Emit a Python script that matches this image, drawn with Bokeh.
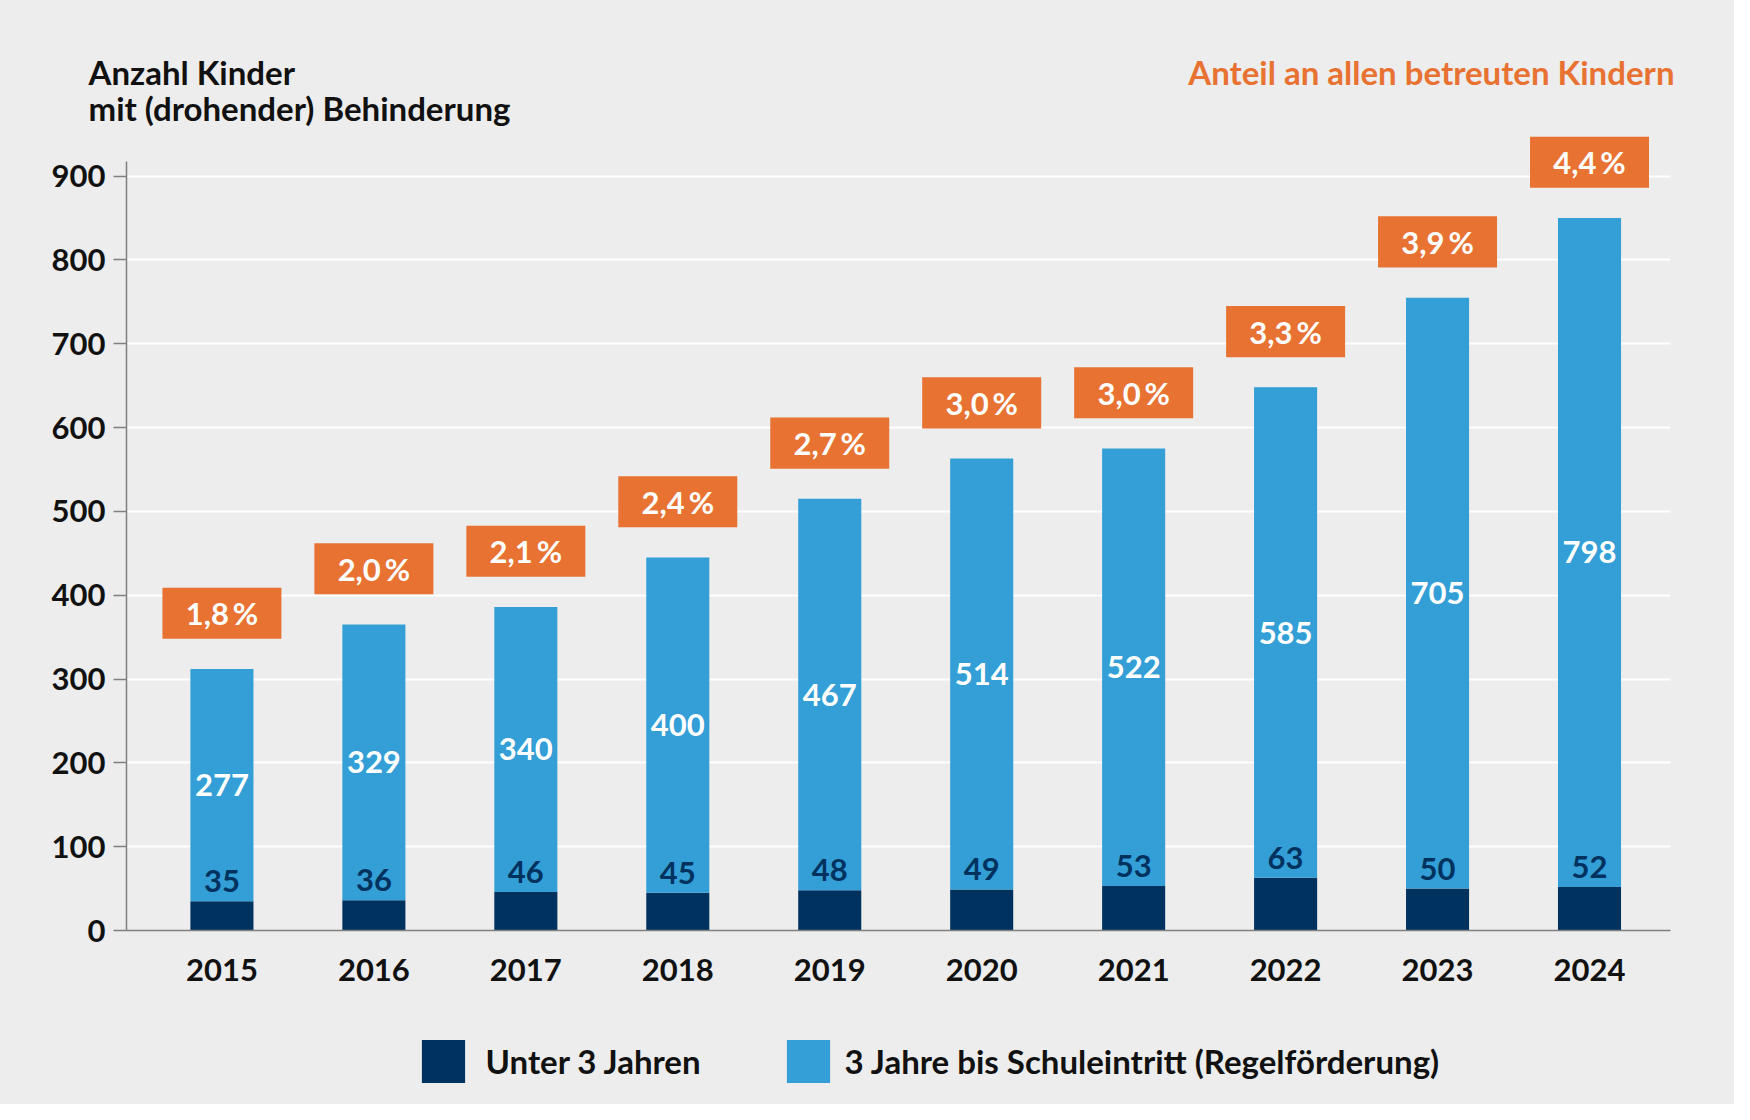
from bokeh.plotting import figure
from bokeh.layouts import column
from bokeh.models import Range1d, FixedTicker, Legend, LegendItem, ColumnDataSource
from bokeh.core.properties import value
from bokeh.embed import file_html
from bokeh.resources import INLINE

# ---- data ----
years = [2015, 2016, 2017, 2018, 2019, 2020, 2021, 2022, 2023, 2024]
under_3 = [35, 36, 46, 45, 48, 49, 53, 63, 50, 52]
age3_to_school = [277, 329, 340, 400, 467, 514, 522, 585, 705, 798]
share_pct = ["1,8", "2,0", "2,1", "2,4", "2,7", "3,0", "3,0", "3,3", "3,9", "4,4"]
y_ticks = [0, 100, 200, 300, 400, 500, 600, 700, 800, 900]
series_names = ["Unter 3 Jahren", "3 Jahre bis Schuleintritt (Regelförderung)"]
title_left = ["Anzahl Kinder", "mit (drohender) Behinderung"]
title_right = "Anteil an allen betreuten Kindern"

# ---- style ----
FONT = "Lato"
BG = "#ECEDEC"
DARK = "#00325F"
LIGHT = "#339FD6"
ORANGE = "#E87232"
INK = "#111111"
FS = "31px"
W = 1734


def blank(height):
    f = figure(width=W, height=height, output_backend="svg", toolbar_location=None,
               x_range=Range1d(0, W), y_range=Range1d(height, 0),
               x_axis_type=None, y_axis_type=None,
               min_border=0, background_fill_color=BG, border_fill_color=BG,
               outline_line_color=None)
    f.xgrid.visible = False
    f.ygrid.visible = False
    f.title.visible = False
    f.frame_align = False
    return f


totals = [a + b for a, b in zip(under_3, age3_to_school)]
src = ColumnDataSource(dict(
    year=years,
    u3=under_3,
    a3=age3_to_school,
    u3_txt=[str(v) for v in under_3],
    a3_txt=[str(v) for v in age3_to_school],
    a3_mid=[u + a / 2 for u, a in zip(under_3, age3_to_school)],
    box_bottom=[t + 36 for t in totals],
    box_top=[t + 97 for t in totals],
    box_mid=[t + 66.5 for t in totals],
    pct=[s + "\u2009%" for s in share_pct],
))

# ---- header with the two titles ----
head = blank(132)
head.text(x=[88, 88], y=[71.3, 107.3], text=title_left, text_align="left",
          text_baseline="middle", text_color=INK, text_font=value(FONT),
          text_font_style="bold", text_font_size="33px")
head.text(x=[1674], y=[71], text=[title_right], text_align="right",
          text_baseline="middle", text_color=ORANGE, text_font=value(FONT),
          text_font_style="bold", text_font_size="33px")

# ---- main chart ----
chart = figure(width=W, height=868, output_backend="svg", toolbar_location=None,
               x_range=Range1d(2014.372, 2024.533), y_range=Range1d(0, 952),
               min_border_left=126, min_border_right=64, min_border_top=0,
               min_border_bottom=70,
               background_fill_color=BG, border_fill_color=BG, outline_line_color=None)
chart.title.visible = False
chart.frame_align = False

rs = chart.vbar_stack(["u3", "a3"], x="year", width=0.415, color=[DARK, LIGHT],
                      line_color=None, source=src)

chart.text(x="year", y="u3", text="u3_txt", source=src, y_offset=-20,
           text_align="center", text_baseline="middle", text_color=DARK,
           text_font=value(FONT), text_font_style="bold", text_font_size=FS)
chart.text(x="year", y="a3_mid", text="a3_txt", source=src,
           text_align="center", text_baseline="middle", text_color="white",
           text_font=value(FONT), text_font_style="bold", text_font_size=FS)

chart.vbar(x="year", bottom="box_bottom", top="box_top", width=0.783, color=ORANGE,
           line_color=None, source=src)
chart.text(x="year", y="box_mid", text="pct", source=src,
           text_align="center", text_baseline="middle", text_color="white",
           text_font=value(FONT), text_font_style="bold", text_font_size=FS)

chart.xgrid.visible = False
chart.ygrid.grid_line_color = "white"
chart.ygrid.grid_line_width = 2
chart.yaxis.ticker = FixedTicker(ticks=y_ticks)
chart.yaxis.bounds = (0, 917)
chart.yaxis.major_tick_out = 13
chart.yaxis.major_tick_in = 0
chart.yaxis.minor_tick_line_color = None
chart.yaxis.major_label_standoff = 8
chart.xaxis.ticker = FixedTicker(ticks=years)
chart.xaxis.major_label_overrides = {y: str(y) for y in years}
chart.xaxis.major_tick_out = 0
chart.xaxis.major_tick_in = 0
chart.xaxis.minor_tick_line_color = None
chart.xaxis.major_label_standoff = 28
for ax in (chart.xaxis, chart.yaxis):
    ax.axis_line_color = "#808080"
    ax.axis_line_width = 1.5
    ax.major_tick_line_color = "#808080"
    ax.major_tick_line_width = 1.5
    ax.major_label_text_font = FONT
    ax.major_label_text_font_style = "bold"
    ax.major_label_text_font_size = FS
    ax.major_label_text_color = INK

# ---- legend strip ----
# key renderers sit at the year positions, i.e. outside this strip's range, so only
# their legend swatches are visible
foot = blank(104)
key_dark = foot.vbar(x="year", top="u3", width=1, color=DARK, line_color=None, source=src)
key_light = foot.vbar(x="year", top="a3", width=1, color=LIGHT, line_color=None, source=src)
for r, name, loc, st in [(key_dark, series_names[0], (415.6, 15.6), 16),
                         (key_light, series_names[1], (780.6, 15.6), 10)]:
    lg = Legend(items=[LegendItem(label=name, renderers=[r])], location=loc,
                orientation="horizontal", glyph_width=54, glyph_height=54,
                label_standoff=st, padding=0, margin=0, border_line_color=None,
                background_fill_alpha=0, label_text_font=FONT,
                label_text_font_style="bold", label_text_font_size="33px",
                label_text_color=INK)
    foot.add_layout(lg, "center")

p = column(head, chart, foot, spacing=0, styles={"background-color": BG})
open("out.html", "w").write(file_html(p, INLINE))
